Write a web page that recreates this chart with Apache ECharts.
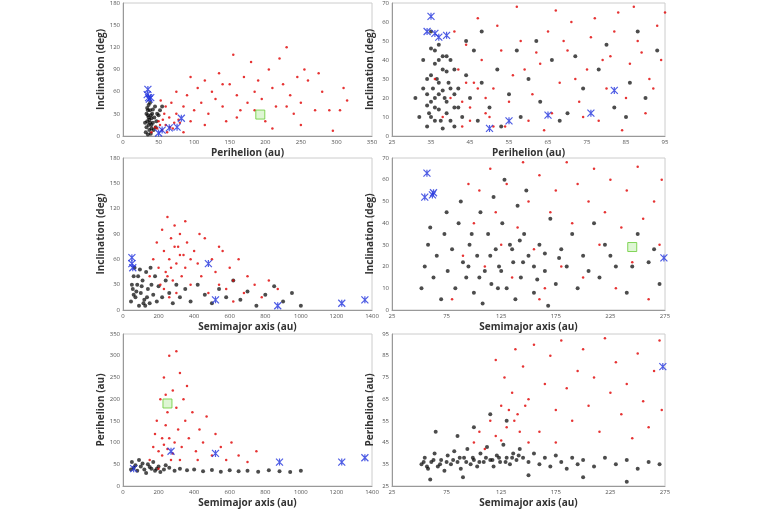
<!DOCTYPE html>
<html><head><meta charset="utf-8">
<script src="https://cdn.jsdelivr.net/npm/echarts@6/dist/echarts.min.js"></script>
<style>html,body{margin:0;background:#fff}#c{width:768px;height:509px}</style>
</head><body><div id="c"></div>
<script>
// panel 1: perihelion vs inclination (wide)
const p1Black = [[32,5],[33,12],[34,20],[35,28],[36,15],[37,22],[38,35],[40,10],[41,30],[42,18],[44,25],[45,40],[46,12],[48,30],[34,38],[36,42],[39,3],[43,8],[35,2],[38,45],[33,30],[37,8],[40,24],[42,36],[31,18],[47,20],[50,28],[52,35],[55,40],[36,25],[38,18],[40,15],[35,35],[39,28]];
const p1Red = [[40,5],[45,12],[50,20],[55,8],[60,15],[65,25],[70,10],[75,30],[80,18],[85,40],[90,55],[95,20],[100,35],[105,65],[110,45],[115,75],[120,30],[125,60],[130,50],[135,85],[140,40],[145,20],[150,70],[155,110],[160,55],[165,35],[170,80],[175,45],[180,100],[185,60],[190,75],[195,50],[200,20],[205,90],[210,65],[215,40],[220,105],[225,70],[230,120],[235,55],[240,30],[245,80],[250,45],[255,90],[260,75],[270,35],[275,85],[280,60],[290,35],[295,7],[305,35],[310,65],[315,48],[75,60],[60,40],[85,5],[95,80],[115,15],[140,70],[160,25],[185,35],[210,10],[230,40],[250,15],[58,30],[68,45],[78,22],[53,48],[48,10],[52,15],[56,22],[62,5],[66,12],[72,18]];
const p1Blue = [[35,63],[34,56],[36,52],[37,50],[39,52],[50,4],[55,8],[65,11],[76,12],[82,24]];
const p1Green = [[193,29]];

// panel 2: perihelion vs inclination (zoom)
const p2Black = [[34,5],[34.5,12],[35,18],[35.5,25],[36,15],[36.5,30],[37,22],[37.5,8],[38,35],[38.5,20],[39,12],[39.5,28],[40,40],[41,15],[42,25],[43,10],[44,32],[45,20],[46,45],[47,8],[48,28],[50,15],[52,35],[55,22],[58,10],[60,30],[63,18],[66,40],[70,12],[74,25],[78,35],[82,15],[86,28],[90,20],[93,45],[33,40],[36,45],[34,30],[37,48],[35,55],[39,42],[31,20],[32,10],[41,5],[44,50],[48,55],[53,5],[57,45],[62,50],[68,8],[72,42],[80,48],[85,10],[88,55],
  [34,22],[35,10],[35,32],[36,20],[36,38],[37,14],[37,28],[38,24],[38,42],[39,18],[39,34],[40,25],[40,8],[41,22],[41,35],[42,15],[34,16],[33,25],[36,8],[38,4],[37,40],[35,46]];
const p2Red = [[36,30],[38,10],[40,20],[42,35],[43,5],[45,15],[46,28],[48,40],[50,10],[51,25],[53,45],[55,18],[56,32],[58,50],[60,8],[61,22],[63,38],[65,55],[66,12],[68,28],[70,45],[71,60],[73,18],[75,35],[76,52],[78,8],[80,25],[81,42],[83,65],[85,20],[86,38],[88,50],[90,12],[91,30],[93,58],[94,40],[47,62],[52,58],[57,68],[62,44],[67,66],[72,30],[77,62],[82,55],[87,68],[92,25],[44,48],[49,20],[54,5],[59,35],[64,3],[69,50],[74,10],[79,40],[84,3],[89,44],[41,55],[95,65],[43,18],[45,8],[47,25],[49,12],[51,5],[44,28]];
const p2Blue = [[35,63],[34,55],[36,54],[37,52],[39,53],[50,4],[55,8],[65,11],[76,12],[82,24]];

// panel 3: semimajor axis vs inclination (wide)
const p3Black = [[45,10],[55,25],[60,40],[70,15],[80,30],[90,5],[100,20],[110,35],[120,12],[130,45],[140,25],[150,8],[160,30],[170,18],[180,40],[190,10],[200,28],[220,15],[240,35],[260,20],[280,8],[300,30],[320,15],[350,25],[380,10],[420,30],[460,18],[500,8],[540,25],[580,15],[620,35],[660,12],[700,22],[750,5],[800,18],[850,28],[900,10],[950,20],[1000,5],[65,50],[95,48],[125,5],[155,50],[50,30],[75,22],[105,28],[135,15],[85,40],[115,8],[60,18]];
const p3Red = [[150,40],[170,60],[190,80],[200,50],[210,30],[220,95],[230,70],[240,45],[250,110],[260,60],[270,85],[280,35],[290,100],[300,55],[310,75],[320,90],[330,40],[340,65],[350,50],[360,80],[380,30],[400,70],[420,55],[440,40],[460,85],[480,20],[500,60],[520,45],[540,30],[560,70],[580,25],[600,50],[620,35],[650,60],[680,20],[700,40],[740,30],[780,15],[820,35],[870,25],[300,20],[260,15],[350,105],[230,25],[430,90],[540,75],[620,10],[380,60],[270,50],[320,65],[290,75],[250,40]];
const p3Blue = [[50,62],[50,55],[55,50],[480,55],[520,12],[870,5],[1230,8],[1360,12]];

// panel 4: semimajor axis vs inclination (zoom)
const p4Black = [[52,10],[55,20],[58,30],[60,38],[63,15],[66,25],[70,5],[73,35],[76,18],[80,28],[83,10],[86,40],[90,22],[93,15],[96,30],[100,8],[103,25],[106,45],[110,18],[113,35],[116,12],[120,28],[123,20],[126,40],[130,10],[133,30],[136,22],[140,48],[143,15],[146,35],[150,25],[155,8],[160,30],[165,18],[170,42],[175,12],[180,28],[185,20],[190,35],[195,10],[200,25],[210,40],[215,15],[220,30],[230,20],[240,8],[250,35],[260,22],[270,12],[88,50],[118,52],[148,55],[108,3],[138,5],[168,2],[75,45],[128,60],
  [95,20],[105,15],[115,25],[125,18],[135,28],[145,22],[155,20],[165,26],[98,35],[122,10],[142,32],[158,14],[178,24],[205,18],[225,25],[245,20],[265,28]];
const p4Red = [[90,25],[100,40],[105,55],[110,20],[115,65],[120,45],[125,30],[130,58],[135,15],[140,38],[145,68],[150,50],[155,28],[160,62],[165,10],[170,45],[175,55],[180,20],[185,68],[190,40],[195,58],[200,15],[205,50],[210,65],[215,30],[220,45],[225,60],[230,10],[235,38],[240,55],[245,22],[250,66],[255,42],[260,5],[265,50],[270,30],[272,60],[80,5],[95,58],[160,5]];
const p4Blue = [[55,52],[57,63],[62,53],[63,54],[274,24]];
const p4Green = [[245,29]];

// panel 5: semimajor axis vs perihelion (wide)
const p5Black = [[45,38],[60,42],[80,35],[100,45],[120,38],[140,50],[160,40],[180,35],[200,45],[230,38],[260,42],[290,35],[320,40],[360,36],[400,38],[450,34],[500,37],[550,33],[600,36],[650,34],[700,35],[760,33],[820,36],[880,34],[940,32],[1000,35],[50,55],[90,60],[130,30],[170,55],[210,32],[70,48],[110,52],[150,44],[190,40],[240,48]];
const p5Red = [[150,60],[170,90],[180,120],[190,150],[200,80],[210,200],[220,110],[230,250],[240,140],[250,170],[260,300],[270,60],[280,220],[290,100],[300,180],[310,130],[320,260],[330,90],[340,200],[350,150],[370,110],[390,170],[410,80],[430,130],[450,100],[470,160],[500,70],[520,120],[550,90],[580,60],[610,100],[650,70],[700,55],[750,80],[300,310],[240,210],[320,60],[200,40],[260,110],[360,230],[420,60],[220,70],[230,95],[250,85],[280,75]];
const p5Blue = [[60,40],[270,80],[520,75],[880,55],[1230,55],[1360,65]];
const p5Green = [[250,190]];

// panel 6: semimajor axis vs perihelion (zoom)
const p6Black = [[52,35],[55,38],[58,33],[61,36],[64,40],[67,34],[70,37],[73,32],[76,39],[79,35],[82,41],[85,36],[88,33],[91,38],[94,42],[97,35],[100,37],[103,34],[106,40],[109,36],[112,43],[115,37],[118,34],[121,39],[124,36],[127,44],[130,38],[133,35],[136,40],[139,37],[142,42],[145,38],[150,36],[155,40],[160,35],[165,38],[170,34],[175,39],[180,36],[185,33],[190,38],[195,35],[200,37],[210,34],[220,38],[230,35],[240,37],[250,33],[260,36],[270,35],[85,48],[100,52],[115,58],[65,50],[130,55],[60,28],[90,29],[150,30],[200,29],[240,27],
  [54,36],[57,34],[63,37],[69,35],[75,36],[81,37],[87,38],[93,36],[99,38],[105,36],[111,38],[117,37],[123,38],[129,36],[135,38],[141,39]];
const p6Red = [[100,45],[105,50],[110,42],[115,55],[120,48],[125,62],[130,52],[135,68],[140,58],[145,80],[150,65],[155,90],[160,50],[165,72],[170,85],[175,60],[180,92],[185,70],[190,55],[195,78],[200,88],[205,62],[210,75],[215,50],[220,93],[225,68],[230,82],[235,58],[240,72],[245,47],[250,86],[255,64],[260,52],[265,78],[270,92],[272,60],[138,88],[128,75],[150,45],[175,45],[120,83],[132,60],[137,55],[142,50],[147,62],[125,46]];
const p6Blue = [[273,80]];

const grids = [
  {left:123, top:3, width:249, height:133},
  {left:392, top:3, width:273, height:133},
  {left:123, top:158, width:249, height:152},
  {left:392, top:158, width:273, height:152},
  {left:123, top:334, width:249, height:153},
  {left:392, top:334, width:273, height:153}
];
const xs = [
  {min:0,max:350,interval:50,name:'Perihelion (au)'},
  {min:25,max:95,interval:10,name:'Perihelion (au)'},
  {min:0,max:1400,interval:200,name:'Semimajor axis (au)'},
  {min:25,max:275,interval:50,name:'Semimajor axis (au)'},
  {min:0,max:1400,interval:200,name:'Semimajor axis (au)'},
  {min:25,max:275,interval:50,name:'Semimajor axis (au)'}
];
const ys = [
  {min:0,max:180,interval:30,name:'Inclination (deg)'},
  {min:0,max:70,interval:10,name:'Inclination (deg)'},
  {min:0,max:180,interval:30,name:'Inclination (deg)'},
  {min:0,max:70,interval:10,name:'Inclination (deg)'},
  {min:0,max:350,interval:50,name:'Perihelion (au)'},
  {min:25,max:95,interval:10,name:'Perihelion (au)'}
];
const panels = [
  [p1Black,p1Red,p1Blue,p1Green],
  [p2Black,p2Red,p2Blue,[]],
  [p3Black,p3Red,p3Blue,[]],
  [p4Black,p4Red,p4Blue,p4Green],
  [p5Black,p5Red,p5Blue,p5Green],
  [p6Black,p6Red,p6Blue,[]]
];

const lab = {fontSize:6, color:'#555', fontFamily:'Open Sans', formatter: v => String(v)};
const nameStyle = {fontSize:10, fontWeight:'bold', color:'#333', fontFamily:'Open Sans'};
const series = [];
panels.forEach((p, i) => {
  series.push({type:'scatter', xAxisIndex:i, yAxisIndex:i, data:p[0], symbolSize:4,
    itemStyle:{color:'#000', opacity:0.7}});
  series.push({type:'scatter', xAxisIndex:i, yAxisIndex:i, data:p[1], symbolSize:2.5,
    itemStyle:{color:'#e00000'}});
  series.push({type:'scatter', xAxisIndex:i, yAxisIndex:i, data:p[2], symbolSize:7,
    symbol:'path://M0,0L10,10M10,0L0,10M5,0L5,10',
    itemStyle:{color:'none', borderColor:'#2233dd', borderWidth:1.2}});
  series.push({type:'scatter', xAxisIndex:i, yAxisIndex:i, data:p[3], symbolSize:9,
    symbol:'rect', itemStyle:{color:'rgba(120,220,80,0.3)', borderColor:'#66cc33', borderWidth:1}});
});

const chart = echarts.init(document.getElementById('c'));
chart.setOption({
  animation:false,
  grid: grids.map(g => Object.assign({show:true, borderColor:'#ccc', borderWidth:1}, g)),
  xAxis: xs.map((x, i) => ({type:'value', gridIndex:i, min:x.min, max:x.max, interval:x.interval,
    name:x.name, nameLocation:'middle', nameGap:12, nameTextStyle:nameStyle,
    axisLine:{lineStyle:{color:'#999'}}, axisTick:{show:false}, splitLine:{show:false},
    axisLabel:Object.assign({margin:3}, lab)})),
  yAxis: ys.map((y, i) => ({type:'value', gridIndex:i, min:y.min, max:y.max, interval:y.interval,
    name:y.name, nameLocation:'middle', nameGap:17, nameTextStyle:nameStyle,
    axisLine:{show:true, lineStyle:{color:'#999'}}, axisTick:{show:false}, splitLine:{show:false},
    axisLabel:Object.assign({margin:3}, lab)})),
  series
});
</script></body></html>
